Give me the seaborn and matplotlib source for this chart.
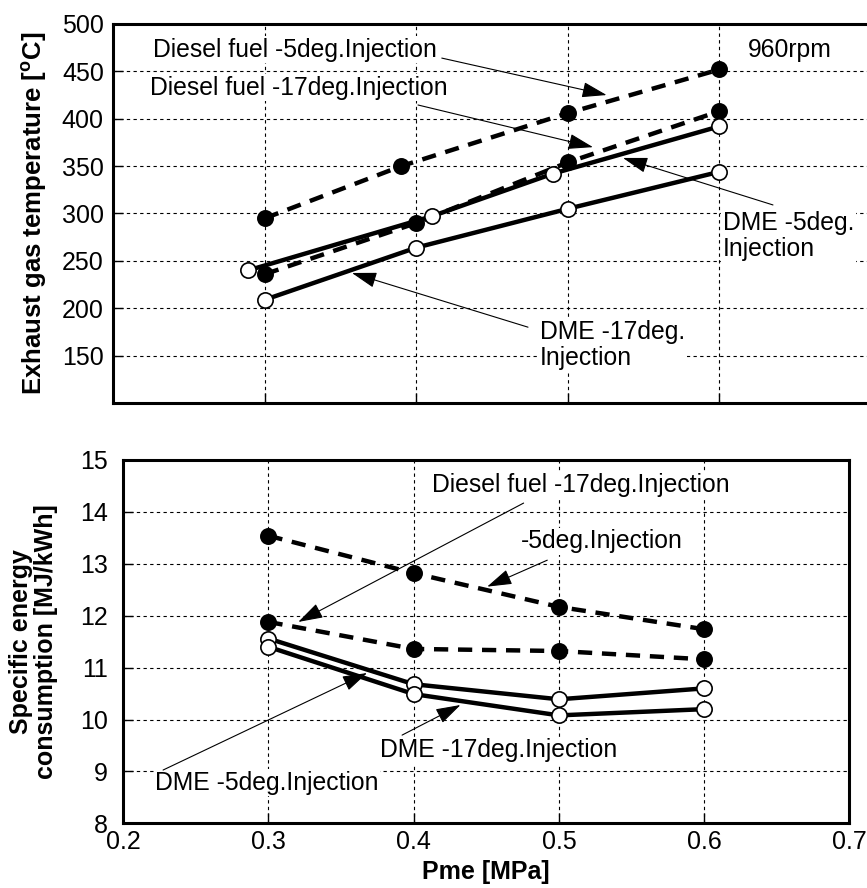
import numpy as np
import pandas as pd
import matplotlib
matplotlib.use('Agg')
import matplotlib.pyplot as plt
import seaborn as sns

# exhaust gas temperature (top panel)
pme_d5_top = [0.30, 0.39, 0.50, 0.60]
temp_d5 = [295, 350, 406, 452]
pme_d17_top = [0.30, 0.40, 0.50, 0.60]
temp_d17 = [236, 290, 354, 408]
pme_dme5_top = [0.289, 0.41, 0.49, 0.60]
temp_dme5 = [240, 297, 342, 392]
pme_dme17_top = [0.30, 0.40, 0.50, 0.60]
temp_dme17 = [209, 264, 305, 344]

# specific energy consumption (bottom panel)
pme_bot = [0.3, 0.4, 0.5, 0.6]
sec_d5 = [13.54, 12.82, 12.17, 11.74]
sec_d17 = [11.88, 11.36, 11.32, 11.16]
sec_dme5 = [11.56, 10.68, 10.39, 10.60]
sec_dme17 = [11.40, 10.49, 10.08, 10.20]

top_yticks = [150, 200, 250, 300, 350, 400, 450, 500]
bot_yticks = [8, 9, 10, 11, 12, 13, 14, 15]
xticks = [0.2, 0.3, 0.4, 0.5, 0.6, 0.7]

sns.set_style('ticks')
plt.rcParams['font.family'] = ['Liberation Sans', 'DejaVu Sans']
plt.rcParams['text.color'] = 'black'
plt.rcParams['axes.labelcolor'] = 'black'
plt.rcParams['mathtext.fontset'] = 'custom'
plt.rcParams['mathtext.rm'] = 'Liberation Sans'
plt.rcParams['mathtext.bf'] = 'Liberation Sans:bold'

fig = plt.figure(figsize=(8.67, 8.88), dpi=100)
ax1 = fig.add_axes([0.1309, 0.5462, 0.8737, 0.4268])
ax2 = fig.add_axes([0.1422, 0.0728, 0.8374, 0.4092])


def draw_series(ax, x, y, dashed, filled):
    df = pd.DataFrame({'x': x, 'y': y})
    sns.lineplot(data=df, x='x', y='y', ax=ax, sort=False, estimator=None,
                 color='black', linewidth=3.2,
                 linestyle=(0, (3.2, 2.2)) if dashed else '-',
                 marker='o', markersize=11,
                 markerfacecolor='black' if filled else 'white',
                 markeredgecolor='black', markeredgewidth=1.2, zorder=5)


draw_series(ax1, pme_d5_top, temp_d5, True, True)
draw_series(ax1, pme_d17_top, temp_d17, True, True)
draw_series(ax1, pme_dme5_top, temp_dme5, False, False)
draw_series(ax1, pme_dme17_top, temp_dme17, False, False)

draw_series(ax2, pme_bot, sec_d5, True, True)
draw_series(ax2, pme_bot, sec_d17, True, True)
draw_series(ax2, pme_bot, sec_dme5, False, False)
draw_series(ax2, pme_bot, sec_dme17, False, False)

for ax in (ax1, ax2):
    ax.set_xlim(0.2, 0.7)
    ax.set_xticks(xticks)
    ax.grid(True, color='black', linestyle=(0, (3, 3)), linewidth=0.8)
    ax.set_axisbelow(True)
    for s in ax.spines.values():
        s.set_linewidth(2.2)
        s.set_color('black')
    ax.tick_params(direction='in', length=7, width=1, labelsize=18,
                   colors='black')

ax1.set_ylim(100, 500)
ax1.set_yticks(top_yticks)
ax1.tick_params(axis='x', labelbottom=False)
ax1.tick_params(axis='y', pad=7)
ax1.spines['right'].set_visible(False)
ax1.set_xlabel('')
ax1.set_ylabel(r'Exhaust gas temperature [$^\mathbf{o}$C]', fontsize=18.5,
               fontweight='bold', labelpad=9)

ax2.set_ylim(8, 15)
ax2.set_yticks(bot_yticks)
ax2.set_xticklabels(['0.2', '0.3', '0.4', '0.5', '0.6', '0.7'])
ax2.tick_params(axis='y', pad=11)
ax2.tick_params(axis='x', pad=5)
ax2.set_xlabel('Pme [MPa]', fontsize=18, fontweight='bold', labelpad=4)
ax2.set_ylabel('Specific energy\nconsumption [MJ/kWh]', fontsize=18,
               fontweight='bold', labelpad=16, linespacing=1.05)

box = dict(facecolor='white', edgecolor='none', pad=1)
arrow = dict(arrowstyle='-|>,head_length=0.7,head_width=0.22', color='black',
             lw=0.8, mutation_scale=22, shrinkA=0, shrinkB=0)
fs = 17.8

# top panel labels
ax1.text(0.226, 472.6, 'Diesel fuel -5deg.Injection', fontsize=fs, va='center', bbox=box)
ax1.text(0.224, 432.5, 'Diesel fuel -17deg.Injection', fontsize=fs, va='center', bbox=box)
ax1.text(0.6188, 472.6, '960rpm', fontsize=fs, va='center', bbox=box)
ax1.text(0.6023, 276, 'DME -5deg.\nInjection', fontsize=fs, va='center',
         linespacing=1.1, bbox=box)
ax1.text(0.4815, 161, 'DME -17deg.\nInjection', fontsize=fs, va='center',
         linespacing=1.1, bbox=box)
ax1.annotate('', xy=(0.5255, 425), xytext=(0.4167, 464), arrowprops=arrow)
ax1.annotate('', xy=(0.5165, 370), xytext=(0.401, 414.5), arrowprops=arrow)
ax1.annotate('', xy=(0.5363, 358.6), xytext=(0.6353, 309), arrowprops=arrow)
ax1.annotate('', xy=(0.3574, 237.2), xytext=(0.4736, 180), arrowprops=arrow)

# bottom panel labels
ax2.text(0.4129, 14.52, 'Diesel fuel -17deg.Injection', fontsize=fs, va='center', bbox=box)
ax2.text(0.4736, 13.43, '-5deg.Injection', fontsize=fs, va='center', bbox=box)
ax2.text(0.2219, 8.78, 'DME -5deg.Injection', fontsize=fs, va='center', bbox=box)
ax2.text(0.377, 9.41, 'DME -17deg.Injection', fontsize=fs, va='center', bbox=box)
ax2.annotate('', xy=(0.3205, 11.88), xytext=(0.4757, 14.17), arrowprops=arrow)
ax2.annotate('', xy=(0.4506, 12.56), xytext=(0.492, 13.07), arrowprops=arrow)
ax2.annotate('', xy=(0.3679, 10.896), xytext=(0.2274, 9.027), arrowprops=arrow)
ax2.annotate('', xy=(0.4322, 10.28), xytext=(0.392, 9.70), arrowprops=arrow)

fig.savefig('out.png', dpi=100)
